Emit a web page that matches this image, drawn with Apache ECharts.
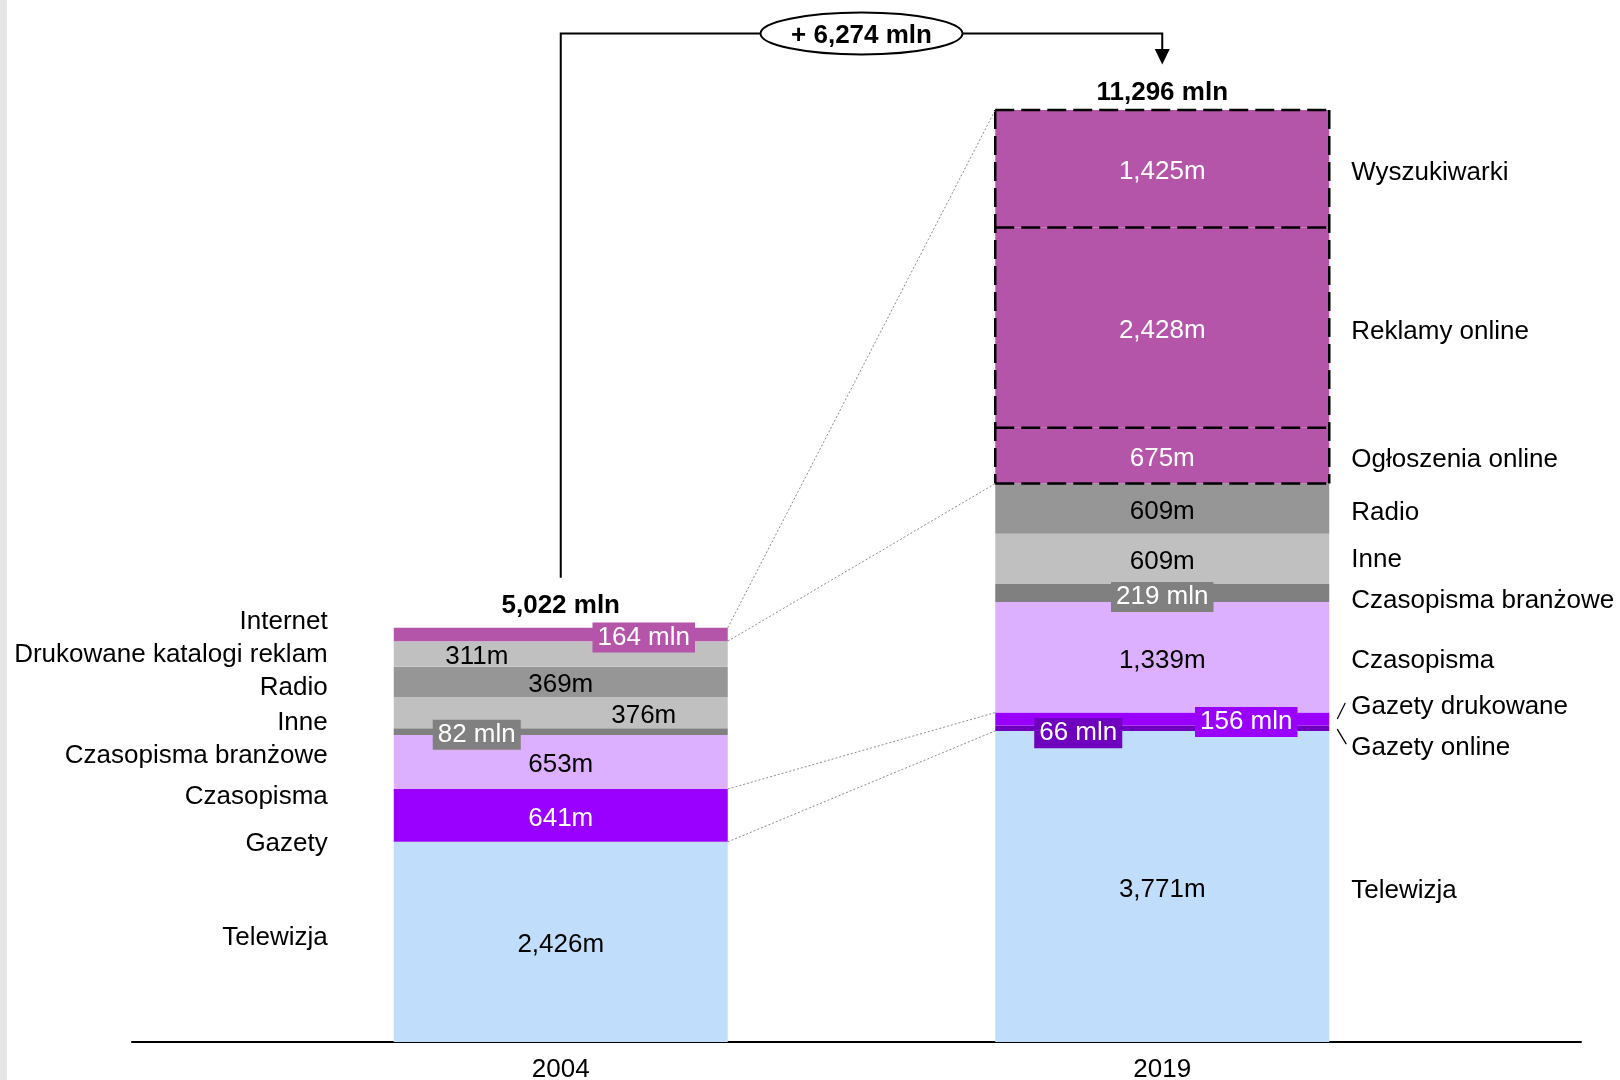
<!DOCTYPE html>
<html>
<head>
<meta charset="utf-8">
<script src="https://cdn.jsdelivr.net/npm/echarts@6/dist/echarts.min.js"></script>
<style>
html,body{margin:0;padding:0;background:#fff;}
#chart{width:1620px;height:1080px;}
</style>
</head>
<body>
<div id="chart"></div>
<script>
// ---------------- DATA ----------------
const years = ['2004', '2019'];
const segments2004 = ['Telewizja', 'Gazety', 'Czasopisma', 'Czasopisma branżowe', 'Inne', 'Radio', 'Drukowane katalogi reklam', 'Internet'];
const values2004 = [2426, 641, 653, 82, 376, 369, 311, 164];
const segments2019 = ['Telewizja', 'Gazety online', 'Gazety drukowane', 'Czasopisma', 'Czasopisma branżowe', 'Inne', 'Radio', 'Ogłoszenia online', 'Reklamy online', 'Wyszukiwarki'];
const values2019 = [3771, 66, 156, 1339, 219, 609, 609, 675, 2428, 1425];
const totalLabels = ['5,022 mln', '11,296 mln'];
const growthLabel = '+ 6,274 mln';
// which 2004 segment is split into which 2019 segments (dotted connectors)
const connections = [
  ['Internet', ['Ogłoszenia online', 'Reklamy online', 'Wyszukiwarki']],
  ['Gazety', ['Gazety online', 'Gazety drukowane']]
];

// ---------------- STYLES ----------------
const FONT = "'Liberation Sans', Arial, Helvetica, sans-serif";
const FS = 26;
const TDY = 3; // small vertical text nudge
const BAR_W = 334;
const segColors = {
  'Telewizja': '#C0DEFC',
  'Gazety': '#9900FF',
  'Gazety drukowane': '#9900FF',
  'Gazety online': '#6E00BE',
  'Czasopisma': '#DCB0FE',
  'Czasopisma branżowe': '#808080',
  'Inne': '#C0C0C0',
  'Radio': '#969696',
  'Drukowane katalogi reklam': '#C0C0C0',
  'Internet': '#B455AA',
  'Ogłoszenia online': '#B455AA',
  'Reklamy online': '#B455AA',
  'Wyszukiwarki': '#B455AA'
};
const dashedSegs = ['Ogłoszenia online', 'Reklamy online', 'Wyszukiwarki'];
// inner label styling per year
const innerStyle = [
  {
    'Gazety': {white: true},
    'Czasopisma branżowe': {box: '#808080', dx: -84},
    'Inne': {dx: 83},
    'Drukowane katalogi reklam': {dx: -84},
    'Internet': {box: '#B455AA', dx: 83}
  },
  {
    'Gazety online': {box: '#6E00BE', dx: -84, dy: 2},
    'Gazety drukowane': {box: '#9900FF', dx: 84},
    'Czasopisma branżowe': {box: '#808080', dy: 1},
    'Ogłoszenia online': {white: true},
    'Reklamy online': {white: true},
    'Wyszukiwarki': {white: true}
  }
];
// side label vertical nudges per year
const sideDy = [
  {'Telewizja': -7, 'Gazety': 25, 'Czasopisma': 32, 'Czasopisma branżowe': 21, 'Inne': 7, 'Radio': 3, 'Drukowane katalogi reklam': -2, 'Internet': -16},
  {'Telewizja': 1, 'Gazety online': 17, 'Gazety drukowane': -15, 'Czasopisma': 0, 'Czasopisma branżowe': 5, 'Inne': -2, 'Radio': 1, 'Ogłoszenia online': 1, 'Reklamy online': 1, 'Wyszukiwarki': 1}
];

// ---------------- DERIVED ----------------
function cumul(vals) { const c = [0]; vals.forEach(v => c.push(c[c.length - 1] + v)); return c; }
const cum2004 = cumul(values2004);
const cum2019 = cumul(values2019);
const sum2004 = cum2004[cum2004.length - 1];
const sum2019 = cum2019[cum2019.length - 1];
const fmt = v => v.toLocaleString('en-US');

function makeSeries(yearIdx, names, values) {
  return names.map((name, i) => {
    const ls = innerStyle[yearIdx][name] || {};
    return {
      type: 'bar',
      name: name + ' ' + years[yearIdx],
      stack: 'total',
      barWidth: BAR_W,
      xAxisIndex: 0, yAxisIndex: 0,
      data: years.map((_, k) => k === yearIdx ? values[i] : null),
      itemStyle: {color: segColors[name], borderWidth: 0},
      label: {
        show: true,
        position: 'inside',
        offset: [ls.dx || 0, (ls.dy || 0) + TDY],
        fontSize: FS,
        fontFamily: FONT,
        color: (ls.white || ls.box) ? '#fff' : '#000',
        textBorderWidth: 0,
        lineHeight: 28,
        backgroundColor: ls.box || 'transparent',
        padding: ls.box ? [1, 5] : 0,
        formatter: p => ls.box ? p.value + ' mln' : fmt(p.value) + 'm'
      },
      emphasis: {disabled: true},
      silent: true
    };
  });
}

const sideItems = [];
const sideData = [];
[[segments2004, values2004, cum2004], [segments2019, values2019, cum2019]].forEach(([names, vals, cum], y) => {
  names.forEach((n, i) => {
    sideItems.push({name: n, year: y, dy: sideDy[y][n] || 0});
    sideData.push([y, cum[i], vals[i]]);
  });
});

const series = [].concat(
  makeSeries(0, segments2004, values2004),
  makeSeries(1, segments2019, values2019)
);

// side category labels
series.push({
  type: 'custom',
  coordinateSystem: 'cartesian2d',
  xAxisIndex: 0, yAxisIndex: 0,
  silent: true,
  clip: false,
  data: sideData,
  renderItem: function (params, api) {
    const info = sideItems[params.dataIndex];
    const cat = api.value(0), base = api.value(1), val = api.value(2);
    const c = api.coord([cat, base + val / 2]);
    const left = cat === 0;
    const x = left ? c[0] - BAR_W / 2 - 66 : c[0] + BAR_W / 2 + 22;
    const y = c[1] + info.dy;
    const children = [{
      type: 'text',
      style: {x: x, y: y + TDY, text: info.name, align: left ? 'right' : 'left', verticalAlign: 'middle',
        fontSize: FS, fontFamily: FONT, fill: '#000'}
    }];
    if (info.name === 'Gazety drukowane') {
      children.push({type: 'line', shape: {x1: x - 6, y1: y - 1, x2: x - 14, y2: y + 15}, style: {stroke: '#000', lineWidth: 1.3}});
    }
    if (info.name === 'Gazety online') {
      children.push({type: 'line', shape: {x1: x - 14, y1: y - 16, x2: x - 5, y2: y - 1}, style: {stroke: '#000', lineWidth: 1.3}});
    }
    return {type: 'group', children: children};
  }
});

// annotations: dashed outlines, connectors, totals, growth bracket
series.push({
  type: 'custom',
  coordinateSystem: 'cartesian2d',
  xAxisIndex: 0, yAxisIndex: 0,
  silent: true,
  clip: false,
  z: 5,
  data: [[0, 0]],
  renderItem: function (params, api) {
    const children = [];
    const dashStyle = {stroke: '#000', lineWidth: 2.5, lineDash: [19, 7], fill: null};
    const j0d = segments2019.indexOf(dashedSegs[0]);
    const j1d = segments2019.indexOf(dashedSegs[dashedSegs.length - 1]);
    const bounds = [];
    for (let j = j0d; j <= j1d + 1; j++) bounds.push(cum2019[j]);
    bounds.forEach(v => {
      const p = api.coord([1, v]);
      children.push({type: 'line', shape: {x1: p[0] - BAR_W / 2, y1: p[1], x2: p[0] + BAR_W / 2, y2: p[1]}, style: dashStyle});
    });
    const pt = api.coord([1, bounds[bounds.length - 1]]), pb = api.coord([1, bounds[0]]);
    [-1, 1].forEach(s => {
      const x = pt[0] + s * BAR_W / 2;
      children.push({type: 'line', shape: {x1: x, y1: pt[1], x2: x, y2: pb[1]}, style: dashStyle});
    });
    connections.forEach(([from, toList]) => {
      const i = segments2004.indexOf(from);
      const j0 = segments2019.indexOf(toList[0]);
      const j1 = segments2019.indexOf(toList[toList.length - 1]);
      [[cum2004[i], cum2019[j0]], [cum2004[i + 1], cum2019[j1 + 1]]].forEach(([a, b]) => {
        const p = api.coord([0, a]), q = api.coord([1, b]);
        children.push({type: 'line', shape: {x1: p[0] + BAR_W / 2, y1: p[1], x2: q[0] - BAR_W / 2, y2: q[1]},
          style: {stroke: '#8c8c8c', lineWidth: 1, lineDash: [2, 2]}});
      });
    });
    const t0 = api.coord([0, sum2004]);
    const t1 = api.coord([1, sum2019]);
    children.push({type: 'text', style: {x: t0[0], y: t0[1] - 25 + TDY, text: totalLabels[0], align: 'center', verticalAlign: 'middle',
      fontSize: FS, fontWeight: 'bold', fontFamily: FONT, fill: '#000'}});
    children.push({type: 'text', style: {x: t1[0], y: t1[1] - 20 + TDY, text: totalLabels[1], align: 'center', verticalAlign: 'middle',
      fontSize: FS, fontWeight: 'bold', fontFamily: FONT, fill: '#000'}});
    const yTop = t1[1] - 76.5;
    const midX = (t0[0] + t1[0]) / 2;
    const rx = 101, ry = 21;
    children.push({type: 'polyline', shape: {points: [[t0[0], t0[1] - 50], [t0[0], yTop], [midX - rx, yTop]]},
      style: {stroke: '#000', lineWidth: 2, fill: null}});
    children.push({type: 'polyline', shape: {points: [[midX + rx, yTop], [t1[0], yTop], [t1[0], t1[1] - 60]]},
      style: {stroke: '#000', lineWidth: 2, fill: null}});
    children.push({type: 'polygon', shape: {points: [[t1[0] - 7.5, t1[1] - 61], [t1[0] + 7.5, t1[1] - 61], [t1[0], t1[1] - 45.5]]},
      style: {fill: '#000'}});
    children.push({type: 'ellipse', shape: {cx: midX, cy: yTop, rx: rx, ry: ry}, style: {stroke: '#000', lineWidth: 2, fill: '#fff'}});
    children.push({type: 'text', style: {x: midX, y: yTop + 2, text: growthLabel, align: 'center', verticalAlign: 'middle',
      fontSize: FS, fontWeight: 'bold', fontFamily: FONT, fill: '#000'}});
    return {type: 'group', children: children};
  }
});

const chart = echarts.init(document.getElementById('chart'), null, {renderer: 'canvas'});
chart.setOption({
  animation: false,
  backgroundColor: '#fff',
  textStyle: {fontFamily: FONT},
  graphic: [{type: 'rect', left: 0, top: 0, shape: {width: 7, height: 1080}, style: {fill: '#E6E6E6'}, silent: true}],
  grid: [
    {left: 260, right: 157, top: 110, bottom: 38, containLabel: false, outerBoundsMode: 'none'},
    {left: 132, right: 39, top: 110, bottom: 38, containLabel: false, outerBoundsMode: 'none'}
  ],
  xAxis: [
    {type: 'category', gridIndex: 0, data: years,
      axisLine: {show: false}, axisTick: {show: false},
      axisLabel: {fontSize: FS, color: '#000', margin: 15, fontFamily: FONT}},
    {type: 'category', gridIndex: 1, data: [''],
      axisLine: {show: true, lineStyle: {color: '#000', width: 2}}, axisTick: {show: false}, axisLabel: {show: false}}
  ],
  yAxis: [
    {type: 'value', gridIndex: 0, min: 0, max: Math.max(sum2004, sum2019), show: false, splitLine: {show: false}},
    {type: 'value', gridIndex: 1, min: 0, max: 1, show: false, splitLine: {show: false}}
  ],
  series: series
});
</script>
</body>
</html>
